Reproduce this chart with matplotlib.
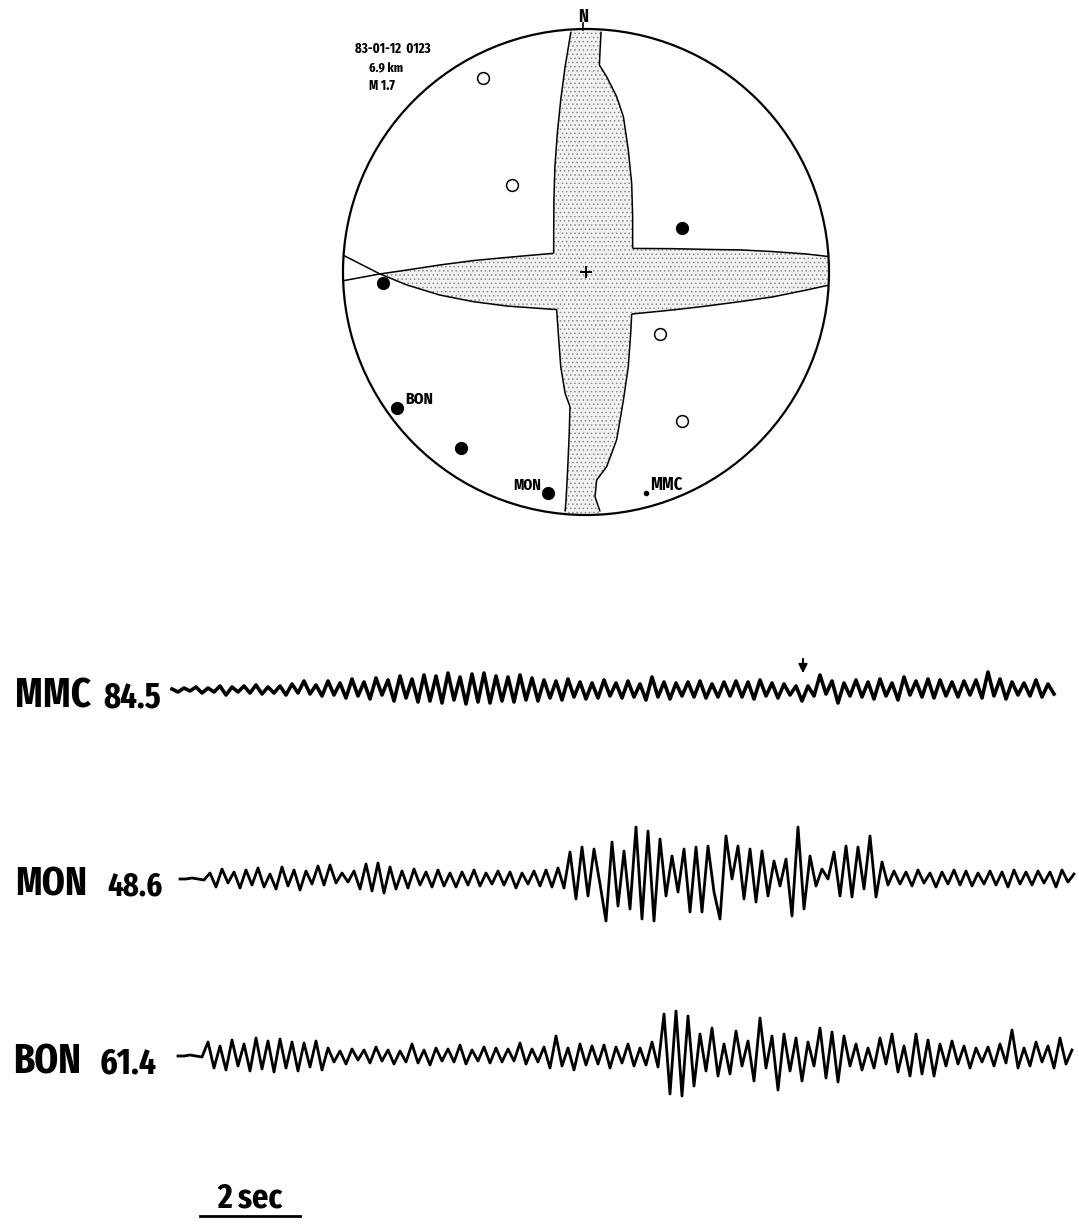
import numpy as np
import matplotlib
matplotlib.use("Agg")
import matplotlib.pyplot as plt
from matplotlib import font_manager
from matplotlib.font_manager import FontProperties
from matplotlib.patches import Circle, Polygon

# ---------------------------------------------------------------- data
# Focal mechanism header
event_date = "83-01-12  0123"
event_depth = "6.9 km"
event_mag = "M 1.7"

# First-motion polarities on the lower-hemisphere projection (unit circle)
comp_x = [0.395, -0.835, -0.778, -0.514, -0.156]
comp_y = [0.181, -0.045, -0.560, -0.724, -0.909]
dil_x = [-0.424, -0.305, 0.305, 0.395]
dil_y = [0.798, 0.358, -0.255, -0.613]
weak_x = [0.247]
weak_y = [-0.909]

station_names = ["BON", "MON", "MMC"]
station_label_x = [-0.745, -0.300, 0.263]
station_label_y = [-0.543, -0.897, -0.897]

# Nodal-plane uncertainty zones (boundary curves, unit-circle coordinates)
ns_west_north_x = [-0.062, -0.086, -0.104, -0.118, -0.128, -0.132, -0.133, -0.133]
ns_west_north_y = [0.989, 0.845, 0.708, 0.571, 0.433, 0.296, 0.159, 0.077]
ew_north_west_x = [-0.133, -0.326, -0.464, -0.601, -0.738, -0.848, -1.005]
ew_north_west_y = [0.077, 0.060, 0.047, 0.029, 0.008, -0.008, -0.037]
ew_south_west_x = [-1.001, -0.848, -0.738, -0.601, -0.464, -0.326, -0.134]
ew_south_west_y = [0.070, -0.008, -0.053, -0.095, -0.122, -0.140, -0.154]
ns_west_south_x = [-0.134, -0.121, -0.114, -0.104, -0.086, -0.066, -0.069, -0.075, -0.082, -0.086]
ns_west_south_y = [-0.154, -0.154, -0.252, -0.389, -0.499, -0.554, -0.664, -0.801, -0.938, -0.986]
ns_east_south_x = [0.058, 0.037, 0.044, 0.085, 0.126, 0.154, 0.174, 0.184, 0.188]
ns_east_south_y = [-0.986, -0.925, -0.856, -0.801, -0.691, -0.527, -0.390, -0.252, -0.173]
ew_south_east_x = [0.188, 0.359, 0.497, 0.634, 0.771, 0.908, 1.004]
ew_south_east_y = [-0.173, -0.156, -0.140, -0.122, -0.102, -0.074, -0.053]
ew_north_east_x = [1.004, 0.908, 0.771, 0.634, 0.497, 0.359, 0.192]
ew_north_east_y = [0.063, 0.074, 0.084, 0.091, 0.093, 0.096, 0.097]
ns_east_north_x = [0.192, 0.192, 0.188, 0.174, 0.154, 0.126, 0.085, 0.055, 0.058, 0.062]
ns_east_north_y = [0.097, 0.228, 0.365, 0.502, 0.639, 0.722, 0.804, 0.852, 0.914, 0.989]

# Seismograms: station, distance (km), start time (s), amplitude samples
trace_names = ["MMC", "MON", "BON"]
trace_dist = ["84.5", "48.6", "61.4"]
trace_start = [0.0, 0.16, 0.12]
sample_dt = 0.12
mmc_amp = [1, -2, 2, -1, 3, -3, 2, -2, 4, -5, 3, -2, 4, -3, 5, -4, 3, -3, 4, -5, 6, -3,
           9, -4, 5, -6, 9, -5, 7, -8, 11, -6, 8, -9, 12, -5, 10, -11, 14, -8, 11, -12,
           15, -11, 14, -13, 17, -10, 13, -14, 16, -12, 17, -13, 14, -11, 13, -12, 15, -10, 12, -11,
           10, -8, 9, -10, 11, -7, 8, -9, 7, -8, 10, -6, 7, -8, 9, -7, 6, -10, 13, -7, 8, -9,
           7, -6, 8, -7, 9, -8, 6, -7, 8, -6, 9, -7, 8, -9, 10, -6, 7, -8, 6, -5, 4,
           -11, 4, -6, 15, -4, 9, -13, 7, -6, 10, -7, 8, -9, 11, -6, 7, -10, 13, -5, 9, -7, 11,
           -8, 10, -6, 8, -7, 9, -5, 10, -8, 18, -6, 11, -9, 8, -5, 7, -6, 10, -7, 6, -4]
mon_amp = [0, 0, 1, 0, -1,
           6, -8, 10, -4, 7, -9, 9, -6, 11, -8, 5, -10, 12, -7, 9, -11, 8, -5, 13, -6,
           14, -4, 6, -3, 8, -10, 15, -12,
           16, -14, 12, -10, 8, -9, 10, -6, 7, -8, 9, -7, 6, -8, 7, -6, 9, -7, 6, -5, 8, -6,
           7, -9, 6, -5, 8, -7, 9, -8, 11, -9,
           27, -20, 32, -17, 30, -5, -42, 37, -27, 28, -30, 52, -40, 48, -42, 40, -17,
           23, -13, 30, -33, 32, -33, 33, -13, -40, 43, 0, 33, -20, 30, -23, 28, -17, 18, -7, 20,
           -37, 52, -30, 23, -7, 10, 0, 27, -17, 33, -18, 32, -10, 43, -18, 17,
           -6, 8, -5, 7, -7, 9, -4, 6, -8, 7, -5, 9, -6, 8, -7, 6, -5, 8, -6, 7, -8, 9,
           -5, 7, -6, 8, -4, 7, -8, 9, -3, 5]
bon_amp = [0, 0, 1, 0, -1,
           14, -12, 10, -14, 16, -10, 12, -15, 18, -13, 15, -16, 17, -12, 14, -15, 13, -11, 15, -14,
           8, -6, 5, -8, 7, -4, 6, -7, 9, -5, 6, -8, 5, -6, 12, -7, 6, -9, 8, -5, 7, -6,
           11, -8, 6, -5, 9, -7, 8, -6, 7, -5, 13, -8, 7, -6,
           9, -12, 20, -10, 8, -14, 12, -9, 10, -8, 11, -12, 9, -7, 12, -10, 8, -9, 14, -11,
           42, -38, 45, -40, 40,
           -30, 22, -15, 28, -20, 12, -18, 25, -10, 15, -25, 38, -12, 20, -34, 22, -15, 18,
           -25, 14, -10, 28, -22, 24, -26, 20, -10, 12, -14, 8, -12, 18, -8, 22, -16, 10,
           -20, 22, -18, 16, -20, 12, -10, 15, -8, 10, -12, 8, -6, 9, -10, 12, -7, 26,
           -12, 8, -10, 14, -6, 10, -12, 18, -8, 6]
arrival_time = 12.62          # picked phase marked on the MMC trace
scale_bar_seconds = 2.0

# ---------------------------------------------------------------- fonts
def _weight(w):
    if isinstance(w, str):
        return font_manager.weight_dict.get(w, 400)
    return int(w)


def find_condensed_bold():
    ranked = []
    for f in font_manager.fontManager.ttflist:
        tag = (f.name + " " + str(f.stretch) + " " + f.fname).lower().replace("-", "").replace(" ", "")
        if f.style != "normal" or _weight(f.weight) < 600:
            continue
        if not ("condensed" in tag or "narrow" in tag):
            continue
        if "extracondensed" in tag or "ultracondensed" in tag:
            rank = 0
        elif "semicondensed" in tag:
            rank = 2
        else:
            rank = 1
        ranked.append((rank, abs(_weight(f.weight) - 700), f.fname))
    ranked.sort()
    return ranked[0][2] if ranked else None


cond_file = find_condensed_bold()


def label_font(size):
    if cond_file:
        return FontProperties(fname=cond_file, size=size)
    return FontProperties(family=["Roboto", "DejaVu Sans"], weight="bold", size=size)


W, H = 1079, 1230
fig = plt.figure(figsize=(W / 100, H / 100), dpi=100, facecolor="white")
renderer = fig.canvas.get_renderer()


def fit_width(txt, width_px):
    """Shrink a text so its rendered width does not exceed width_px."""
    bb = txt.get_window_extent(renderer)
    if bb.width > width_px:
        txt.set_fontsize(txt.get_fontsize() * width_px / bb.width)
    return txt


plt.rcParams["hatch.color"] = "#8c8c8c"
plt.rcParams["hatch.linewidth"] = 0.6

# ---------------------------------------------------------------- focal sphere
cx, cy, R = 586, 272, 243          # centre and radius in pixels
half = 1.1 * R
ax = fig.add_axes([(cx - half) / W, (H - cy - half) / H, 2 * half / W, 2 * half / H])
ax.set_xlim(-1.1, 1.1)
ax.set_ylim(-1.1, 1.1)
ax.set_aspect("equal")
ax.axis("off")

rim = Circle((0, 0), 1.0, facecolor="none", edgecolor="black", lw=1.6, zorder=5)
ax.add_patch(rim)
clip = Circle((0, 0), 1.0, transform=ax.transData)

# shaded zone: outline traced around the cross, overshooting the rim and clipped to it
poly_x = ([ns_west_north_x[0]] + ns_west_north_x + ew_north_west_x[1:6]
          + ew_south_west_x[1:] + ns_west_south_x[1:] + [ns_west_south_x[-1]]
          + [ns_east_south_x[0]] + ns_east_south_x + ew_south_east_x[1:]
          + [1.08, 1.08] + ew_north_east_x + ns_east_north_x[1:] + [ns_east_north_x[-1]])
poly_y = ([1.08] + ns_west_north_y + ew_north_west_y[1:6]
          + ew_south_west_y[1:] + ns_west_south_y[1:] + [-1.08]
          + [-1.08] + ns_east_south_y + ew_south_east_y[1:]
          + [ew_south_east_y[-1], ew_north_east_y[0]] + ew_north_east_y + ns_east_north_y[1:] + [1.08])
zone = Polygon(np.column_stack([poly_x, poly_y]), closed=True, facecolor="#f2f2f2",
               edgecolor="#8c8c8c", lw=0, hatch="....", zorder=1)
ax.add_patch(zone)
zone.set_clip_path(clip)

for bx, by in [(ns_west_north_x, ns_west_north_y), (ew_north_west_x, ew_north_west_y),
               (ew_south_west_x, ew_south_west_y), (ns_west_south_x, ns_west_south_y),
               (ns_east_south_x, ns_east_south_y), (ew_south_east_x, ew_south_east_y),
               (ew_north_east_x, ew_north_east_y), (ns_east_north_x, ns_east_north_y)]:
    ln, = ax.plot(bx, by, color="black", lw=1.1, zorder=3, solid_capstyle="butt")
    ln.set_clip_path(clip)

ax.plot([0], [0], marker="+", ms=9, mew=1.4, color="black", zorder=4)
ax.plot(comp_x, comp_y, "o", ms=8.5, color="black", zorder=4)
ax.plot(dil_x, dil_y, "o", ms=8.5, mfc="white", mec="black", mew=1.1, zorder=4)
ax.plot(weak_x, weak_y, "o", ms=3, color="black", zorder=4)

station_widths = [28, 28, 32]
for name, lx, ly, wpx in zip(station_names, station_label_x, station_label_y, station_widths):
    fit_width(ax.text(lx, ly, name, fontproperties=label_font(13), ha="left",
                      va="baseline", zorder=6), wpx)

ax.text(-0.012, 1.03, "N", fontproperties=label_font(13), ha="center", va="baseline")
ax.plot([-0.012, -0.012], [0.995, 1.025], color="black", lw=1.2, clip_on=False)
fit_width(ax.text(-0.95, 0.902, event_date, fontproperties=label_font(10), ha="left",
                  va="baseline"), 88)
fit_width(ax.text(-0.892, 0.823, event_depth, fontproperties=label_font(10), ha="left",
                  va="baseline"), 34)
fit_width(ax.text(-0.892, 0.749, event_mag, fontproperties=label_font(10), ha="left",
                  va="baseline"), 30)

# ---------------------------------------------------------------- seismograms
px_per_s = 50.0
x0_px = 172
top_px = 600
sx = fig.add_axes([0, 0, 1, (H - top_px) / H])
sx.set_xlim(-x0_px / px_per_s, (W - x0_px) / px_per_s)
sx.set_ylim(0, H - top_px)
sx.axis("off")

trace_base = [H - 690, H - 879, H - 1056]     # baseline of each trace (pixels from bottom)
trace_lw = [2.6, 2.0, 2.0]
name_left = [15, 15, 13]
dist_left = [103, 107, 100]
name_width = [76, 72, 68]
dist_width = [58, 55, 57]
amps = [mmc_amp, mon_amp, bon_amp]
for i, (name, dist, t0, amp, base, lw) in enumerate(zip(trace_names, trace_dist, trace_start,
                                                         amps, trace_base, trace_lw)):
    a = np.asarray(amp, dtype=float)
    t = t0 + sample_dt * np.arange(a.size)
    sx.plot(t, base + a, color="black", lw=lw, solid_joinstyle="round")
    fit_width(fig.text(name_left[i] / W, (base - 17) / H, name, fontproperties=label_font(36),
                       ha="left", va="baseline"), name_width[i])
    fit_width(fig.text(dist_left[i] / W, (base - 17) / H, dist, fontproperties=label_font(27),
                       ha="left", va="baseline"), dist_width[i])

sx.annotate("", xy=(arrival_time, trace_base[0] + 14), xytext=(arrival_time, trace_base[0] + 34),
            arrowprops=dict(arrowstyle="-|>", color="black", lw=1.4, mutation_scale=13))

# time scale
bar_x0 = (200 - x0_px) / px_per_s
sx.plot([bar_x0, bar_x0 + scale_bar_seconds], [H - 1216] * 2, color="black", lw=2.0)
fit_width(sx.text(bar_x0 + scale_bar_seconds / 2, H - 1207, "2 sec",
                  fontproperties=label_font(25), ha="center", va="baseline"), 66)

fig.savefig("out.png", dpi=100, facecolor="white")
